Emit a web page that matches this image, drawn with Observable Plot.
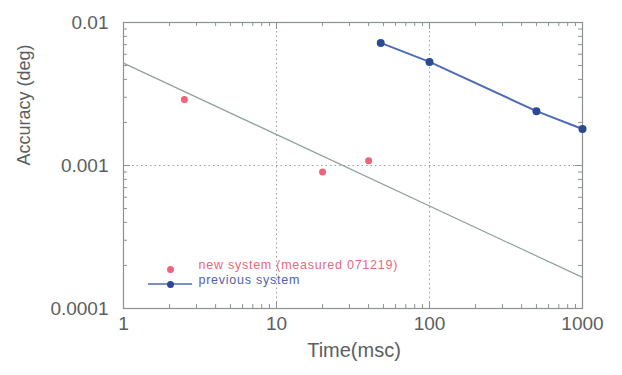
<!DOCTYPE html>
<html>
<head>
<meta charset="utf-8">
<script src="https://cdn.jsdelivr.net/npm/d3@7"></script>
<script src="https://cdn.jsdelivr.net/npm/@observablehq/plot@0.6"></script>
<style>
  html, body { margin: 0; padding: 0; background: #ffffff; }
  #chart svg { display: block; }
</style>
</head>
<body>
<div id="chart"></div>
<script>
// ---- data ----
const newTime = [2.5, 20, 40];
const newAccuracy = [0.0029, 0.0009, 0.00108];
const prevTime = [48, 100, 500, 1000];
const prevAccuracy = [0.0072, 0.0053, 0.0024, 0.0018];
const fitTime = [1, 1000];
const fitAccuracy = [0.0052, 0.000165];
const xTickLabels = [1, 10, 100, 1000];
const yTickLabels = [0.0001, 0.001, 0.01];
const legendLabels = ["new system (measured 071219)", "previous system"];

const newData = newTime.map((t, i) => ({t, a: newAccuracy[i]}));
const prevData = prevTime.map((t, i) => ({t, a: prevAccuracy[i]}));
const fitData = fitTime.map((t, i) => ({t, a: fitAccuracy[i]}));

const W = 622, H = 375;
const mL = 123, mR = 40, mT = 22, mB = 67;
const fw = W - mL - mR, fh = H - mT - mB;

const xMinor = d3.scaleLog().domain([1, 1000]).ticks().filter(d => !xTickLabels.includes(d));
const yMinor = d3.scaleLog().domain([0.0001, 0.01]).ticks().filter(d => !yTickLabels.some(v => Math.abs(v - d) < 1e-12));

const frameC = "#8c9292";
const textC = "#5a6060";
const redC = "#f0627a";
const blueLine = "#4d6db2";
const blueDot = "#2c4a92";
const fitC = "#8fa09e";
const sans = "'Liberation Sans', Arial, sans-serif";

const legend = (index, scales, values, dims) => {
  const g = d3.create("svg:g");
  const bx = dims.marginLeft, by = dims.height - dims.marginBottom;
  g.append("line").attr("x1", bx + 25).attr("x2", bx + 69)
    .attr("y1", by - 24).attr("y2", by - 24)
    .attr("stroke", blueLine).attr("stroke-width", 1.5);
  return g.node();
};

const chart = Plot.plot({
  width: W, height: H,
  marginLeft: mL, marginRight: mR, marginTop: mT, marginBottom: mB,
  style: {background: "#ffffff", fontFamily: sans},
  x: {type: "log", domain: [1, 1000], axis: null},
  y: {type: "log", domain: [0.0001, 0.01], axis: null},
  marks: [
    // grid
    Plot.ruleX([10, 100], {stroke: "#9aa0a0", strokeDasharray: "1.5,3", strokeWidth: 1}),
    Plot.ruleY([0.001], {stroke: "#9aa0a0", strokeDasharray: "1.5,3", strokeWidth: 1}),
    // inward ticks: bottom & top
    Plot.tickX(xMinor, {x: d => d, insetTop: fh - 4, stroke: frameC}),
    Plot.tickX(xMinor, {x: d => d, insetBottom: fh - 4, stroke: frameC}),
    Plot.tickX(xTickLabels, {x: d => d, insetTop: fh - 7, stroke: frameC}),
    Plot.tickX(xTickLabels, {x: d => d, insetBottom: fh - 7, stroke: frameC}),
    // inward ticks: left & right
    Plot.tickY(yMinor, {y: d => d, insetRight: fw - 4, stroke: frameC}),
    Plot.tickY(yMinor, {y: d => d, insetLeft: fw - 4, stroke: frameC}),
    Plot.tickY(yTickLabels, {y: d => d, insetRight: fw - 7, stroke: frameC}),
    Plot.tickY(yTickLabels, {y: d => d, insetLeft: fw - 7, stroke: frameC}),
    Plot.frame({stroke: frameC, strokeWidth: 1.2}),
    // tick labels
    Plot.text(xTickLabels, {x: d => d, frameAnchor: "bottom", dy: 21, text: d => String(d), fontSize: 19, fill: textC}),
    Plot.text(yTickLabels, {y: d => d, frameAnchor: "left", dx: -15, textAnchor: "end", text: d => String(d), fontSize: 19, fill: textC}),
    // axis titles
    Plot.text(["Time(msc)"], {frameAnchor: "bottom", dx: 1, dy: 48, fontSize: 20, fill: textC, fontFamily: sans}),
    Plot.text(["Accuracy (deg)"], {frameAnchor: "left", dx: -99, rotate: -90, fontSize: 18, fill: textC}),
    // fit line
    Plot.line(fitData, {x: "t", y: "a", stroke: fitC, strokeWidth: 1.2}),
    // previous system
    Plot.line(prevData, {x: "t", y: "a", stroke: blueLine, strokeWidth: 2}),
    Plot.dot(prevData, {x: "t", y: "a", r: 4, fill: blueDot}),
    // new system
    Plot.dot(newData, {x: "t", y: "a", r: 3.5, fill: redC}),
    // legend
    legend,
    Plot.dot([0], {frameAnchor: "bottom-left", dx: 47, dy: -39, r: 3.5, fill: redC}),
    Plot.dot([0], {frameAnchor: "bottom-left", dx: 47, dy: -24, r: 3.5, fill: blueDot}),
    Plot.text([legendLabels[0]], {frameAnchor: "bottom-left", dx: 75, dy: -39.5, textAnchor: "start", fontSize: 12.5, fill: "#e8687e"}),
    Plot.text([legendLabels[1]], {frameAnchor: "bottom-left", dx: 75, dy: -24.5, textAnchor: "start", fontSize: 12.5, fill: "#4f62aa"})
  ]
});
d3.select(chart).selectAll("text")
  .filter(function() { return legendLabels.includes(this.textContent); })
  .attr("letter-spacing", "0.75px")
  .attr("stroke", function() { return this.getAttribute("fill"); })
  .attr("stroke-width", 0.3);
document.getElementById("chart").appendChild(chart);
</script>
</body>
</html>
